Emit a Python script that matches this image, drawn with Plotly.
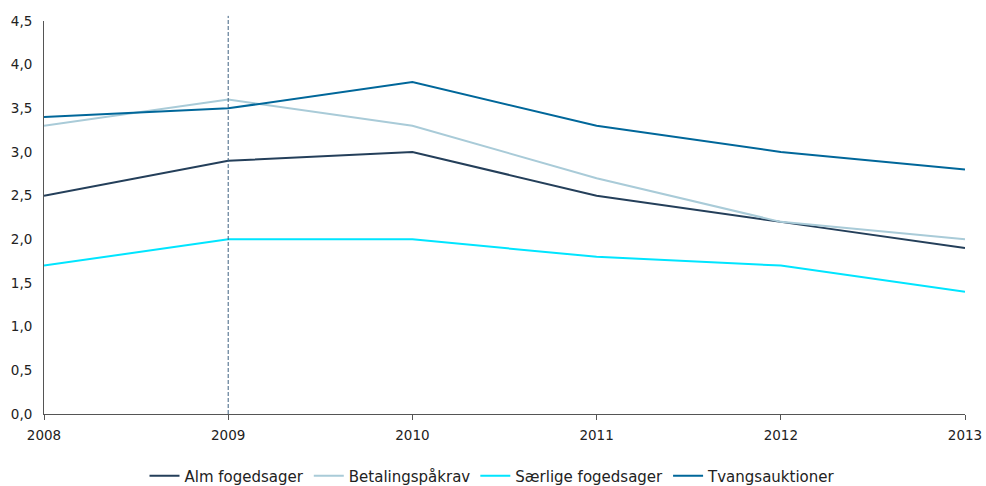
import plotly.graph_objects as go

years = [2008, 2009, 2010, 2011, 2012, 2013]
alm = [2.5, 2.9, 3.0, 2.5, 2.2, 1.9]
betaling = [3.3, 3.6, 3.3, 2.7, 2.2, 2.0]
saerlige = [1.7, 2.0, 2.0, 1.8, 1.7, 1.4]
tvang = [3.4, 3.5, 3.8, 3.3, 3.0, 2.8]

series = [
    ("Alm fogedsager", alm, "#243f5a"),
    ("Betalingspåkrav", betaling, "#a9cbd8"),
    ("Særlige fogedsager", saerlige, "#00e5ff"),
    ("Tvangsauktioner", tvang, "#00679a"),
]

fig = go.Figure()
for name, vals, col in series:
    fig.add_trace(go.Scatter(x=years, y=vals, name=name, mode="lines",
                             line=dict(color=col, width=2)))

fig.add_shape(type="line", x0=2009, x1=2009, xref="x", yref="paper", y0=0, y1=1.013,
              line=dict(color="#3f6282", width=1, dash="4px,2px"))

fig.update_layout(
    width=986, height=486,
    margin=dict(l=44, r=21, t=21, b=72),
    paper_bgcolor="white", plot_bgcolor="white",
    font=dict(family="DejaVu Sans, sans-serif", size=13.5, color="#222222"),
    showlegend=True,
    legend=dict(orientation="h", x=0.5, xanchor="center", xref="container",
                y=10 / 486, yanchor="middle", yref="container",
                font=dict(size=15), itemwidth=30, traceorder="normal"),
    xaxis=dict(range=[2008, 2013], tickvals=years, ticktext=[str(y) for y in years],
               showgrid=False, zeroline=False, showline=True, linecolor="#555555",
               linewidth=1, ticks="outside", ticklen=5, tickcolor="#555555",
               ticklabelstandoff=4, automargin=False),
    yaxis=dict(range=[0, 4.5], dtick=0.5, tickformat=".1f", showgrid=False,
               zeroline=False, showline=True, linecolor="#555555", linewidth=1,
               ticks="", ticklabelstandoff=8, automargin=False),
    separators=", ",
)

fig.write_html("out.html", config={"displayModeBar": False},
               post_script="document.body.style.margin='0';document.body.style.padding='0';")
